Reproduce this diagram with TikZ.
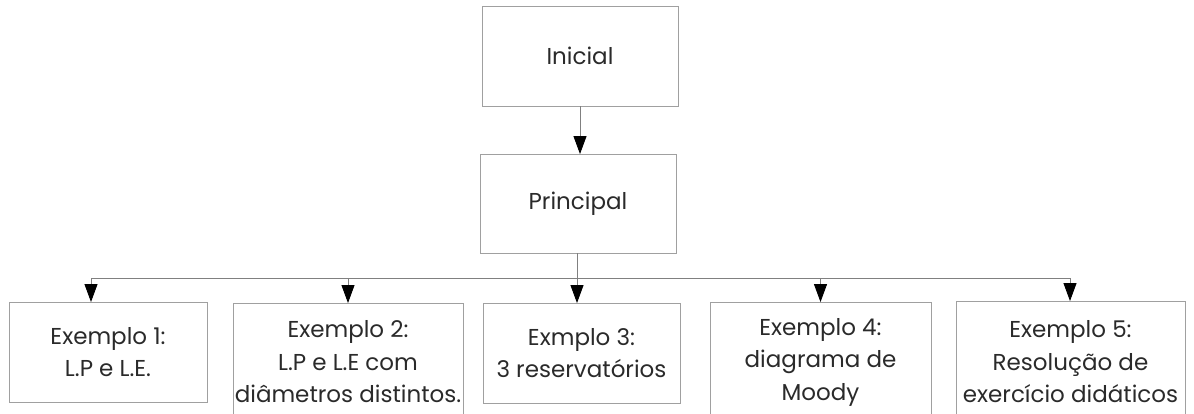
\documentclass[tikz,border=0pt]{standalone}
\usepackage{fontspec}
\setmainfont{Poppins}
\usepackage{xcolor}
\usetikzlibrary{arrows.meta}
\definecolor{boxgray}{HTML}{A0A0A0}
\definecolor{linegray}{HTML}{808080}
\definecolor{txtgray}{HTML}{2A2A2A}

\begin{document}
\begin{tikzpicture}[x=1pt,y=-1pt,
    box/.style={draw=boxgray,line width=0.9pt,align=center,text=txtgray,
      font=\fontsize{23}{32.5}\selectfont,inner sep=0pt},
    link/.style={draw=linegray,line width=0.9pt},
    arr/.style={link,-{Triangle[length=18pt,width=13pt,fill=black,color=black]},shorten >=-0.5pt}]
  \useasboundingbox (0,0) rectangle (1194,414);
  \clip (0,0) rectangle (1194,414);
  \node[box,minimum width=196pt,minimum height=100pt] (ini) at (580,56) {Inicial};
  \node[box,minimum width=196pt,minimum height=99pt] (princ) at (578,203.5) {Principal};
  \node[box,minimum width=198pt,minimum height=100pt] (ex1) at (108,352) {Exemplo 1:\\L.P e L.E.};
  \node[box,minimum width=230pt,minimum height=118pt] (ex2) at (348,362) {Exemplo 2:\\L.P e L.E com\\diâmetros distintos.};
  \node[box,minimum width=197pt,minimum height=100pt] (ex3) at (581.5,353) {Exmplo 3:\\3 reservatórios};
  \node[box,minimum width=221pt,minimum height=120pt] (ex4) at (820.5,362) {Exemplo 4:\\diagrama de\\Moody};
  \node[box,minimum width=229pt,minimum height=122pt] (ex5) at (1070.5,362) {Exemplo 5:\\Resolução de\\exercício didáticos};
  \coordinate (b1) at (91,278);
  \coordinate (b5) at (1070,278);
  \draw[arr] (ini.south -| 580,0) -- (princ.north -| 580,0);
  \draw[link] (b1) -- (b5);
  \draw[arr] (princ.south -| 577,0) -- (ex3.north -| 577,0);
  \draw[arr] (b1) -- (b1 |- ex1.north);
  \draw[arr] (b1 -| ex2.north) -- (ex2.north);
  \draw[arr] (b1 -| ex4.north) -- (ex4.north);
  \draw[arr] (b5) -- (b5 |- ex5.north);
\end{tikzpicture}
\end{document}
